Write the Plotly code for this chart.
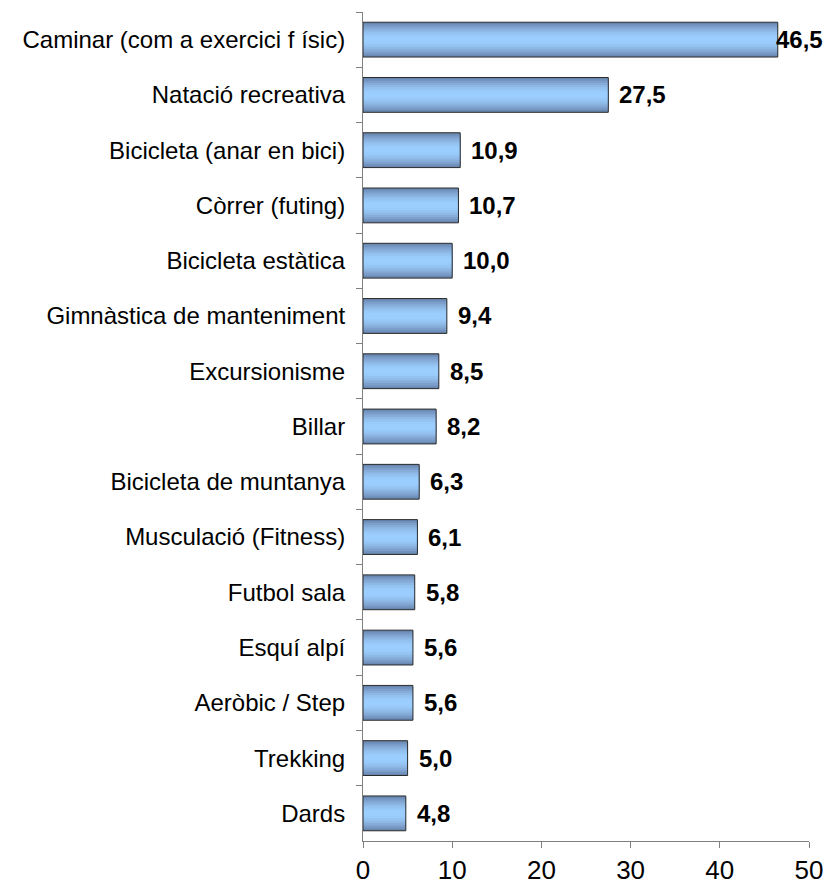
import plotly.graph_objects as go

## dades
activitats = ["Caminar (com a exercici f ísic)", "Natació recreativa", "Bicicleta (anar en bici)",
              "Còrrer (futing)", "Bicicleta estàtica", "Gimnàstica de manteniment",
              "Excursionisme", "Billar", "Bicicleta de muntanya", "Musculació (Fitness)",
              "Futbol sala", "Esquí alpí", "Aeròbic / Step", "Trekking", "Dards"]
percentatge = [46.5, 27.5, 10.9, 10.7, 10.0, 9.4, 8.5, 8.2, 6.3, 6.1, 5.8, 5.6, 5.6, 5.0, 4.8]
eix_x = [0, 10, 20, 30, 40, 50]

# capes per simular el degradat vertical de les barres
ample = 0.63
capes = [(1.0, "#6887b0"), (0.9, "#7293be"), (0.8, "#7c9fcb"), (0.68, "#86add9"),
         (0.55, "#8eb9e6"), (0.42, "#94c3f2"), (0.28, "#98cafa"), (0.15, "#9bcefe")]

fig = go.Figure()
for frac, col in capes:
    fig.add_trace(go.Bar(
        x=percentatge, y=activitats, orientation="h",
        width=ample * frac, marker=dict(color=col, line=dict(width=0)),
        hoverinfo="skip", showlegend=False))

# contorn
fig.add_trace(go.Bar(
    x=percentatge, y=activitats, orientation="h", width=ample,
    marker=dict(color="rgba(0,0,0,0)", line=dict(color="#2b2b2b", width=1)),
    showlegend=False))

# etiquetes de valor
for v, a in zip(percentatge, activitats):
    fig.add_annotation(
        x=v, y=a, text=f"{v:.1f}".replace(".", ","), showarrow=False,
        xanchor="left", xshift=9 if v < 45 else -4,
        font=dict(family="Liberation Sans", size=24, color="black", weight="bold"))

fig.update_layout(
    barmode="overlay",
    width=826, height=888,
    margin=dict(l=363, r=17, t=12, b=47),
    plot_bgcolor="white", paper_bgcolor="white",
    font=dict(family="Liberation Sans", size=24, color="black"),
    xaxis=dict(range=[0, 50], tickvals=eix_x, showgrid=False, zeroline=False,
               showline=True, linecolor="#808080", linewidth=1,
               ticks="outside", ticklen=6, tickcolor="#808080",
               tickfont=dict(size=26), automargin=False),
    yaxis=dict(autorange="reversed", showgrid=False, showline=True,
               linecolor="#808080", linewidth=1, ticks="outside", ticklen=6,
               tickcolor="#808080", tickson="boundaries", ticklabelstandoff=12,
               tickfont=dict(size=24), automargin=False),
)

# sense el marge de 8 px del cos de la pàgina
fig.write_html("out.html", config={"displayModeBar": False},
               post_script="document.body.style.margin='0';document.body.style.overflow='hidden';")
